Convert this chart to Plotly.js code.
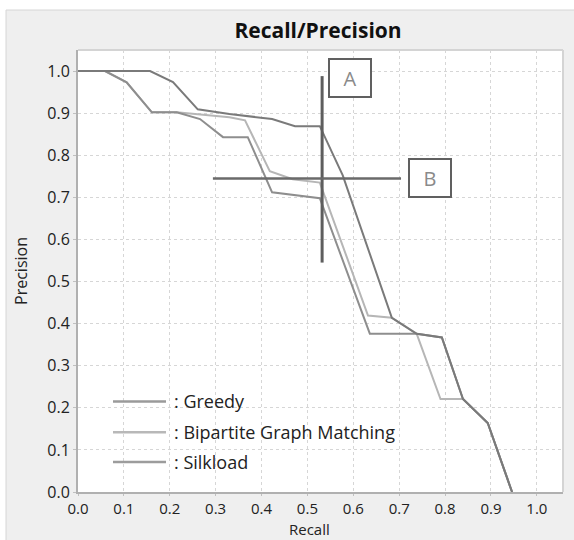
<!DOCTYPE html>
<html>
<head>
<meta charset="utf-8">
<script src="https://cdn.plot.ly/plotly-3.0.1.min.js"></script>
<style>html,body{margin:0;padding:0;background:#fff;}#chart{width:574px;height:540px;}</style>
</head>
<body>
<div id="chart"></div>
<script>
// ---- data ----
const seriesNames = ["Greedy", "Bipartite Graph Matching", "Silkload"];
const recallGreedy = [0, 0.059, 0.106, 0.161, 0.215, 0.266, 0.316, 0.37, 0.423, 0.47, 0.527, 0.636, 0.739, 0.793, 0.839, 0.893, 0.946];
const precGreedy   = [1, 1, 0.973, 0.902, 0.902, 0.886, 0.843, 0.843, 0.712, 0.705, 0.698, 0.376, 0.376, 0.367, 0.221, 0.164, 0];
const recallBip = [0, 0.059, 0.106, 0.161, 0.215, 0.266, 0.33, 0.364, 0.418, 0.468, 0.527, 0.632, 0.675, 0.684, 0.738, 0.79, 0.839, 0.893, 0.946];
const precBip   = [1, 1, 0.973, 0.902, 0.902, 0.897, 0.89, 0.883, 0.762, 0.743, 0.735, 0.419, 0.414, 0.414, 0.376, 0.221, 0.221, 0.164, 0];
const recallSilk = [0, 0.157, 0.207, 0.261, 0.33, 0.423, 0.473, 0.527, 0.577, 0.684, 0.738, 0.793, 0.839, 0.893, 0.946];
const precSilk   = [1, 1, 0.974, 0.909, 0.898, 0.886, 0.869, 0.869, 0.752, 0.414, 0.376, 0.367, 0.221, 0.164, 0];
const tickVals = [0, 0.1, 0.2, 0.3, 0.4, 0.5, 0.6, 0.7, 0.8, 0.9, 1.0];
const tickText = ["0.0","0.1","0.2","0.3","0.4","0.5","0.6","0.7","0.8","0.9","1.0"];
const xTitle = "Recall";
const yTitle = "Precision";
// marker lines A (vertical) and B (horizontal), in data units
const markerA = {x: 0.532, y0: 0.545, y1: 0.988, labelX: 0.593, labelY: 0.983};
const markerB = {y: 0.745, x0: 0.294, x1: 0.704, labelX: 0.767, labelY: 0.745};

const colors = {Greedy: "#8e8e8e", Bip: "#b6b6b6", Silk: "#7a7a7a"};
const FONT = "Open Sans, Noto Sans, DejaVu Sans, sans-serif";

const traces = [
  {x: recallBip, y: precBip, name: seriesNames[1], mode: "lines", line: {color: colors.Bip, width: 2}},
  {x: recallGreedy, y: precGreedy, name: seriesNames[0], mode: "lines", line: {color: colors.Greedy, width: 2}},
  {x: recallSilk, y: precSilk, name: seriesNames[2], mode: "lines", line: {color: colors.Silk, width: 2}}
];

// custom legend (paper coords)
const legendColors = ["#9a9a9a", "#b8b8b8", "#9c9c9c"];
const legendY = [0.205, 0.135, 0.068];
const shapes = [
  {type:"rect", xref:"paper", yref:"paper", x0:-0.2, x1:1.1, y0:1.0 + 40/442, y1:1.3, fillcolor:"#ffffff", line:{width:0}, layer:"below"},
  {type:"rect", xref:"paper", yref:"paper", x0:-78/485, x1:-72/485, y0:-0.2, y1:1.3, fillcolor:"#ffffff", line:{width:0}, layer:"below"},
  {type:"line", xref:"paper", yref:"paper", x0:-72/485, x1:1.1, y0:1.0 + 40/442, y1:1.0 + 40/442, line:{color:"#d6d6d6", width:1}},
  {type:"line", xref:"paper", yref:"paper", x0:-72/485, x1:-72/485, y0:-0.2, y1:1.0 + 40/442, line:{color:"#d6d6d6", width:1}},
  {type:"line", xref:"paper", yref:"paper", x0:0, x1:1, y0:1, y1:1, line:{color:"#d4d4d4", width:2}},
  {type:"line", xref:"paper", yref:"paper", x0:1, x1:1, y0:0, y1:1, line:{color:"#d4d4d4", width:2}},
  {type:"line", xref:"x", yref:"y", x0:markerA.x, x1:markerA.x, y0:markerA.y0, y1:markerA.y1, line:{color:"#5e5e5e", width:3}},
  {type:"line", xref:"x", yref:"y", x0:markerB.x0, x1:markerB.x1, y0:markerB.y, y1:markerB.y, line:{color:"#6a6a6a", width:2.5}}
];
const annotations = [
  {text:"A", xref:"x", yref:"y", x:markerA.labelX, y:markerA.labelY, showarrow:false, font:{family:FONT, size:20, color:"#8a8a8a"}, bordercolor:"#606060", borderwidth:2, width:38, height:34, bgcolor:"#ffffff"},
  {text:"B", xref:"x", yref:"y", x:markerB.labelX, y:markerB.labelY, showarrow:false, font:{family:FONT, size:20, color:"#8a8a8a"}, bordercolor:"#606060", borderwidth:2, width:38, height:34, bgcolor:"#ffffff"},
  {text: xTitle, xref:"paper", yref:"paper", x:0.477, y:-48/442, xanchor:"center", yanchor:"bottom", borderpad:0, showarrow:false, font:{family:FONT, size:15, color:"#222"}}
];
seriesNames.forEach((n, i) => {
  shapes.push({type:"line", xref:"paper", yref:"paper", x0:35/485, x1:88/485, y0:legendY[i], y1:legendY[i], line:{color:legendColors[i], width:2.5}});
  annotations.push({text:": " + n, xref:"paper", yref:"paper", x:94/485, y:legendY[i], xanchor:"left", yanchor:"middle", showarrow:false, font:{family:FONT, size:18, color:"#222"}});
});

const layout = {
  width: 574, height: 540,
  paper_bgcolor: "#efefef", plot_bgcolor: "#ffffff",
  margin: {l: 78, r: 11, t: 50, b: 48},
  showlegend: false,
  title: {text: "<b>Recall/Precision</b>", x: 0.554, xanchor: "center", y: 0.943, yanchor: "middle", font: {family: FONT, size: 21, color: "#111"}},
  font: {family: FONT, color: "#222"},
  xaxis: {range: [0, 1.057], tickvals: tickVals, ticktext: tickText, tickfont: {size: 15, color: "#222"},
          showgrid: true, gridcolor: "#d6d6d6", griddash: "dot", gridwidth: 1, zeroline: false,
          showline: true, linecolor: "#b0b0b0", linewidth: 2, ticks: "outside", ticklen: 2, tickcolor: "#c0c0c0"},
  yaxis: {range: [0, 1.05], tickvals: tickVals, ticktext: tickText, tickfont: {size: 16, color: "#222"},
          showgrid: true, gridcolor: "#d6d6d6", griddash: "dot", gridwidth: 1, zeroline: false,
          showline: true, linecolor: "#b0b0b0", linewidth: 2, ticks: "outside", ticklen: 3, tickcolor: "#c0c0c0",
          title: {text: yTitle, font: {size: 16, color: "#222"}, standoff: 16}},
  shapes: shapes,
  annotations: annotations
};
Plotly.newPlot("chart", traces, layout, {staticPlot: true, displayModeBar: false});
</script>
</body>
</html>
